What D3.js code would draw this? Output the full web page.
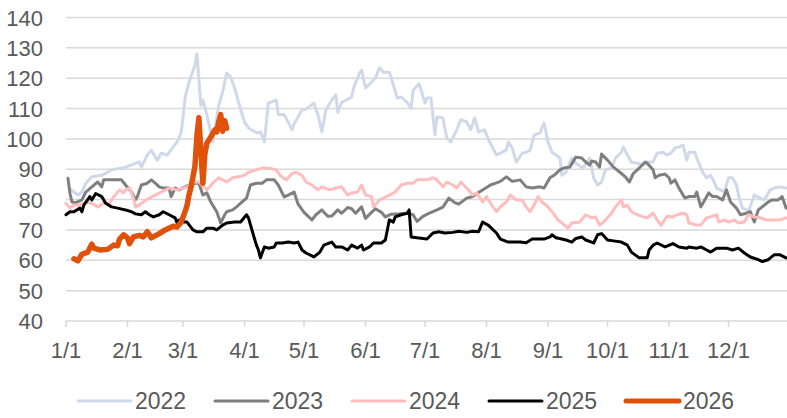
<!DOCTYPE html>
<html>
<head>
<meta charset="utf-8">
<script src="https://cdn.jsdelivr.net/npm/d3@7"></script>
<style>
  html, body { margin: 0; padding: 0; background: #fff; }
  svg { display: block; font-family: "Liberation Sans", Arial, sans-serif; }
</style>
</head>
<body>
<div id="chart"></div>
<script>
// Daily index by year, plotted on a common Jan-Dec axis (MM-DD, value)
const s2022 = [
  ["01-03",83.5],["01-07",81.5],["01-09",82.5],["01-11",85.4],["01-14",87.5],["01-19",88],["01-24",89.8],
  ["01-31",90.7],["02-07",92.4],["02-08",90.7],["02-11",94.7],["02-13",96.3],["02-16",93],["02-18",95.3],
  ["02-21",94.7],["02-24",97.3],["02-26",99],["02-28",102],["03-01",107],["03-02",113.5],["03-04",118.7],
  ["03-07",124.3],["03-08",128],["03-10",111],["03-11",112.8],["03-13",108],["03-16",99],["03-19",111],
  ["03-21",115.5],["03-23",121.7],["03-25",120.4],["03-27",116.8],["03-29",112],["04-01",105.5],["04-03",103.6],
  ["04-07",102],["04-09",102.3],["04-11",99],["04-13",111.8],["04-17",112.8],["04-18",108],["04-21",108],
  ["04-25",103],["04-26",105],["04-30",109.5],["05-02",109.8],["05-06",111.8],["05-08",108],["05-10",102.3],
  ["05-12",109.5],["05-15",112.8],["05-17",114.5],["05-18",108.8],["05-20",112],["05-25",113.8],["05-26",116.8],
  ["05-29",121.7],["05-30",122.7],["06-01",116.8],["06-04",118.7],["06-06",120],["06-08",123.4],["06-10",122],
  ["06-13",122],["06-14",120],["06-17",113.5],["06-19",113.8],["06-22",112],["06-24",110],["06-25",116],
  ["06-28",118.2],["07-01",111.8],["07-02",113.5],["07-04",113.5],["07-06",101.3],["07-07",107.2],["07-10",106.9],
  ["07-12",100.3],["07-14",99],["07-17",103],["07-19",106.3],["07-22",105.6],["07-24",103],["07-26",106.9],
  ["07-28",102.3],["07-31",103],["08-02",99.7],["08-06",94.7],["08-08",95.3],["08-11",96.3],["08-12",99],
  ["08-14",97],["08-16",92.4],["08-19",95.3],["08-21",95.6],["08-23",96.3],["08-25",101.3],["08-28",102],
  ["08-30",105.3],["09-01",99],["09-03",95.6],["09-05",94.7],["09-07",93.7],["09-08",88],["09-10",89],
  ["09-13",93.7],["09-15",92],["09-18",90.7],["09-19",90.7],["09-22",93.7],["09-24",87.2],["09-26",84.8],
  ["09-28",85.8],["09-30",89.8],["10-03",90.4],["10-05",93.7],["10-08",95.6],["10-09",97.3],["10-11",94.7],
  ["10-13",92.4],["10-16",92],["10-19",91.4],["10-21",92.4],["10-24",92.4],["10-26",95.3],["10-29",95.6],
  ["10-31",94.7],["11-02",95.3],["11-04",97],["11-06",97.3],["11-08",98],["11-10",93],["11-11",95.6],
  ["11-14",95.6],["11-15",93.7],["11-18",89],["11-20",87.2],["11-22",88],["11-24",85.4],["11-25",83.8],
  ["11-27",83.2],["11-29",82.5],["12-01",87.2],["12-03",87.2],["12-05",84.8],["12-06",81.5],["12-08",77.2],
  ["12-10",76.6],["12-11",76],["12-14",81.5],["12-17",80.5],["12-19",79.9],["12-22",83.2],["12-24",83.8],
  ["12-27",84.2],["12-30",83.8]
];

const s2023 = [
  ["01-02",87],["01-03",82],["01-04",79.2],["01-06",79],["01-09",79.9],["01-11",82.5],["01-14",84.2],
  ["01-17",85.8],["01-19",84.2],["01-20",86.5],["01-23",86.5],["01-29",86.5],["01-31",84.8],["02-03",82.5],
  ["02-05",80],["02-06",81],["02-08",84.8],["02-11",85.4],["02-13",86.5],["02-15",85.4],["02-17",84.2],
  ["02-19",83.8],["02-22",83.8],["02-23",81],["02-25",83.8],["02-27",83.2],["03-02",84.2],["03-04",84.8],
  ["03-07",85.4],["03-09",85.4],["03-11",81.5],["03-13",82.2],["03-15",79.2],["03-18",76],["03-20",72.3],
  ["03-22",75],["03-23",76],["03-26",76.6],["03-28",77.6],["03-30",78.8],["04-02",80.5],["04-04",84.8],
  ["04-07",85.4],["04-10",85.4],["04-12",86.5],["04-16",86.5],["04-18",84.8],["04-21",80.9],["04-23",81.5],
  ["04-26",82.5],["04-28",78.5],["05-01",75.8],["05-05",73.3],["05-07",75],["05-10",76.6],["05-13",74.5],
  ["05-15",74.6],["05-18",76.6],["05-20",75.5],["05-23",77.4],["05-25",77],["05-27",75.5],["05-30",77.6],
  ["06-01",73.8],["06-04",75.8],["06-06",77],["06-09",75.8],["06-11",74.3],["06-14",75.2],["06-18",75.3],
  ["06-22",75.5],["06-25",75],["06-27",72.8],["06-30",74.5],["07-03",75.5],["07-07",76.6],["07-10",77.5],
  ["07-13",80.5],["07-16",79],["07-18",78.5],["07-22",80.5],["07-25",81],["07-28",82.3],["08-01",84],
  ["08-03",84.8],["08-06",85.5],["08-08",86],["08-11",87.5],["08-14",86],["08-18",86.5],["08-21",84.2],
  ["08-24",83.8],["08-28",84.2],["08-30",83.8],["09-02",87.2],["09-04",88],["09-07",89.8],["09-09",90.4],
  ["09-12",90.7],["09-15",94],["09-18",93.7],["09-20",92.4],["09-22",91.4],["09-23",92.7],["09-25",92.4],
  ["09-27",90.7],["09-28",95],["10-01",93],["10-04",90.7],["10-08",88.6],["10-10",87.5],["10-12",85.8],
  ["10-14",88.6],["10-17",90.4],["10-20",92.4],["10-21",92],["10-24",89.8],["10-25",87.2],["10-27",88],
  ["10-30",88.4],["11-01",87.2],["11-02",85.4],["11-04",86.5],["11-06",83.8],["11-09",80.5],["11-11",81],
  ["11-14",81],["11-15",82.5],["11-17",77.6],["11-20",81],["11-21",82.2],["11-23",81],["11-25",81],
  ["11-28",79.9],["11-30",83.2],["12-02",79.2],["12-05",77.2],["12-07",75],["12-10",75.5],["12-12",76],
  ["12-14",72.6],["12-16",76.6],["12-18",77.6],["12-21",79.2],["12-23",79.9],["12-26",79.9],["12-28",81],
  ["12-30",77.2]
];

const s2024 = [
  ["01-01",78.8],["01-03",77.2],["01-05",78.2],["01-08",78.2],["01-11",79.2],["01-14",78.8],["01-17",77.6],
  ["01-20",78.8],["01-23",78.8],["01-25",80.9],["01-28",83.2],["01-30",82.2],["01-31",83.2],["02-02",83.8],
  ["02-04",80.5],["02-05",77.6],["02-07",78.2],["02-09",79.2],["02-12",80.5],["02-15",81.5],["02-18",82.5],
  ["02-22",83.8],["02-26",83.2],["03-01",83.8],["03-03",84.2],["03-07",85.8],["03-09",85.8],["03-12",83.8],
  ["03-13",83.2],["03-16",85.4],["03-19",87.2],["03-21",86.5],["03-23",85.8],["03-26",87.2],["03-29",87.5],
  ["04-01",88],["04-03",89],["04-07",89.8],["04-10",90.4],["04-13",90.4],["04-17",89.8],["04-19",88],
  ["04-22",86.5],["04-25",88.6],["04-27",89],["04-30",88],["05-02",85.8],["05-05",84.8],["05-08",83.2],
  ["05-10",84.2],["05-14",83.2],["05-17",83.8],["05-20",84.2],["05-23",81.5],["05-25",82.2],["05-28",82.5],
  ["05-30",84.8],["06-01",81.5],["06-04",81],["06-05",77.6],["06-08",79.9],["06-10",80.5],["06-13",81.5],
  ["06-16",82.5],["06-19",84.8],["06-22",85.4],["06-25",85.4],["06-27",86.5],["06-30",86.5],["07-02",86.5],
  ["07-05",87.2],["07-07",86.5],["07-10",84.2],["07-12",85.8],["07-15",84.8],["07-17",83.8],["07-19",85.8],
  ["07-22",83.8],["07-25",81.5],["07-27",82.2],["07-30",79.2],["08-01",81],["08-03",78.8],["08-06",76],
  ["08-08",77.6],["08-11",79.2],["08-13",81.5],["08-16",79.9],["08-19",79.9],["08-21",77.6],["08-23",76],
  ["08-25",78.2],["08-27",81],["08-29",79.2],["09-01",77.6],["09-03",76],["09-06",73.3],["09-08",72.3],
  ["09-11",70.6],["09-13",72.3],["09-17",72.6],["09-20",75],["09-23",74],["09-25",74.3],["09-27",71.6],
  ["09-29",72.6],["10-03",75.5],["10-05",77.6],["10-08",79.9],["10-09",77.6],["10-11",78.2],["10-13",76],
  ["10-16",75],["10-19",74.3],["10-21",74],["10-24",75.5],["10-26",73.3],["10-28",71.5],["10-31",74.5],
  ["11-03",74.3],["11-05",75],["11-08",75.5],["11-10",75],["11-11",72.3],["11-15",71.6],["11-17",71.6],
  ["11-20",74],["11-22",74.3],["11-25",75],["11-26",72.6],["11-29",73.3],["12-01",72.6],["12-04",73.3],
  ["12-06",72.3],["12-09",72.6],["12-11",75],["12-14",74.3],["12-17",74],["12-20",73.3],["12-23",73.3],
  ["12-27",73.3],["12-30",74]
];

const s2025 = [
  ["01-01",75],["01-03",76],["01-05",76],["01-08",77.2],["01-09",76],["01-10",78.2],["01-13",81],
  ["01-14",79.9],["01-16",82],["01-19",81],["01-21",78.8],["01-24",77.6],["01-27",77.2],["01-31",76.6],
  ["02-03",76],["02-05",75.3],["02-08",75],["02-10",76],["02-12",75],["02-14",74.3],["02-17",75],
  ["02-19",76],["02-22",75],["02-25",74],["02-26",72.3],["02-27",73.3],["03-01",72.6],["03-03",72.6],
  ["03-06",70],["03-08",69.4],["03-11",69.4],["03-13",70.6],["03-16",70.6],["03-18",70],["03-21",71.6],
  ["03-23",72.3],["03-27",72.6],["03-30",72.6],["04-02",75],["04-03",74],["04-05",69.4],["04-07",65],
  ["04-08",63.4],["04-09",60.8],["04-11",64.4],["04-13",64],["04-16",64.4],["04-17",65.7],["04-20",65.7],
  ["04-23",66],["04-26",65.7],["04-28",66],["04-30",63.4],["05-02",62.4],["05-06",61.1],["05-09",62.7],
  ["05-11",65],["05-15",66],["05-17",64.4],["05-20",64.4],["05-23",63.4],["05-25",65],["05-28",64],
  ["05-30",65],["05-31",63.4],["06-03",64.4],["06-05",65.7],["06-09",65.7],["06-11",66.7],["06-12",70],
  ["06-13",73.3],["06-15",72.6],["06-16",74.3],["06-19",75],["06-22",75.5],["06-23",76.6],["06-24",67.7],
  ["06-27",67.4],["07-02",67],["07-05",69],["07-08",69.4],["07-11",69],["07-15",69.2],["07-18",69.6],
  ["07-22",69.2],["07-25",69.6],["07-28",69.4],["07-30",72.6],["08-02",71.5],["08-06",69],["08-08",67],
  ["08-12",66],["08-18",66],["08-21",65.8],["08-24",67],["08-28",67],["08-30",67],["09-02",67.7],
  ["09-03",68.4],["09-05",67.4],["09-08",67],["09-11",66.5],["09-13",66],["09-15",67.2],["09-18",67.7],
  ["09-20",66.7],["09-23",66],["09-24",65.7],["09-26",68.4],["09-28",68.8],["10-01",66.7],["10-04",66.4],
  ["10-08",66],["10-11",65],["10-13",62.7],["10-17",60.8],["10-21",60.8],["10-22",63.4],["10-24",65],
  ["10-26",65.7],["10-30",64.4],["11-03",65.5],["11-06",64.4],["11-10",64],["11-11",64.4],["11-15",64],
  ["11-17",64.4],["11-20",63.4],["11-22",62.7],["11-25",64],["11-28",64],["11-30",64],["12-03",63.4],
  ["12-06",64],["12-09",62.4],["12-12",61.1],["12-16",60.2],["12-18",59.6],["12-21",60.2],["12-24",61.8],
  ["12-27",61.8],["12-30",60.8]
];

const s2026 = [
  ["01-05",60.5],["01-07",59.8],["01-09",62],["01-12",62.7],["01-14",65.3],["01-15",64],["01-18",63.4],
  ["01-22",63.6],["01-25",65],["01-27",64.8],["01-28",67],["01-30",68.4],["02-01",67.4],["02-02",65.5],
  ["02-04",67.7],["02-07",68.2],["02-09",67.7],["02-11",69.4],["02-13",67.4],["02-17",68.8],["02-20",70],
  ["02-24",71.2],["02-26",71],["02-28",72.5],["03-02",76],["03-03",78],["03-04",81.5],["03-05",84],
  ["03-07",91],["03-08",101],["03-09",107],["03-10",96],["03-11",85.4],["03-12",95],["03-13",98.6],
  ["03-15",100.6],["03-17",103],["03-18",102.3],["03-19",105.6],["03-20",108],["03-21",102.5],["03-22",106],
  ["03-23",103.5]
];

const years = ["2022", "2023", "2024", "2025", "2026"];
const seriesData = [s2022, s2023, s2024, s2025, s2026];
const yTicks = [40, 50, 60, 70, 80, 90, 100, 110, 120, 130, 140];
const monthLabels = ["1/1","2/1","3/1","4/1","5/1","6/1","7/1","8/1","9/1","10/1","11/1","12/1"];

const colors = ["#cfd9ea", "#7f7f7f", "#ffbdbd", "#000000", "#e0520a"];
const widths = [3, 3, 3, 3, 5.5];

const width = 787, height = 418;
const svg = d3.select("#chart").append("svg")
    .attr("width", width)
    .attr("height", height);

// common (non-leap) base year for the month/day axis
const parse = d3.timeParse("%Y-%m-%d");
const toDate = md => parse("2023-" + md);

const x = d3.scaleTime()
    .domain([new Date(2023, 0, 1), new Date(2024, 0, 1)])
    .range([66, 790]);
const y = d3.scaleLinear().domain([40, 140]).range([321, 17.5]);

const textColor = "#595959";
const gridColor = "#d9d9d9";

// gridlines + y labels
svg.append("g").selectAll("line")
    .data(yTicks)
    .join("line")
    .attr("x1", 66).attr("x2", width)
    .attr("y1", d => y(d)).attr("y2", d => y(d))
    .attr("stroke", gridColor)
    .attr("stroke-width", 1.5);

svg.append("g").selectAll("text")
    .data(yTicks)
    .join("text")
    .attr("x", 43)
    .attr("y", d => y(d) + 8)
    .attr("text-anchor", "end")
    .attr("font-size", 22)
    .attr("fill", textColor)
    .text(d => d);

// x axis ticks and labels
const monthDates = d3.range(12).map(m => new Date(2023, m, 1));
svg.append("g").selectAll("line")
    .data(monthDates)
    .join("line")
    .attr("x1", d => x(d)).attr("x2", d => x(d))
    .attr("y1", y(40)).attr("y2", y(40) + 6)
    .attr("stroke", gridColor)
    .attr("stroke-width", 1.5);

svg.append("g").selectAll("text")
    .data(monthDates)
    .join("text")
    .attr("x", d => x(d))
    .attr("y", 358)
    .attr("text-anchor", "middle")
    .attr("font-size", 22)
    .attr("fill", textColor)
    .text((d, i) => monthLabels[i]);

// series lines
const line = d3.line()
    .x(d => x(toDate(d[0])))
    .y(d => y(d[1]));

svg.append("g").selectAll("path")
    .data(seriesData)
    .join("path")
    .attr("d", line)
    .attr("fill", "none")
    .attr("stroke", (d, i) => colors[i])
    .attr("stroke-width", (d, i) => widths[i])
    .attr("stroke-linejoin", "round")
    .attr("stroke-linecap", "round");

// legend
const legend = svg.append("g").selectAll("g")
    .data(years)
    .join("g")
    .attr("transform", (d, i) => `translate(${78 + i * 137},401)`);

legend.append("line")
    .attr("x1", 0).attr("x2", 53)
    .attr("y1", 0).attr("y2", 0)
    .attr("stroke", (d, i) => colors[i])
    .attr("stroke-width", (d, i) => i === 4 ? 5 : 3)
    .attr("stroke-linecap", "round");

legend.append("text")
    .attr("x", 57)
    .attr("y", 8)
    .attr("font-size", 23)
    .attr("fill", textColor)
    .text(d => d);
</script>
</body>
</html>
